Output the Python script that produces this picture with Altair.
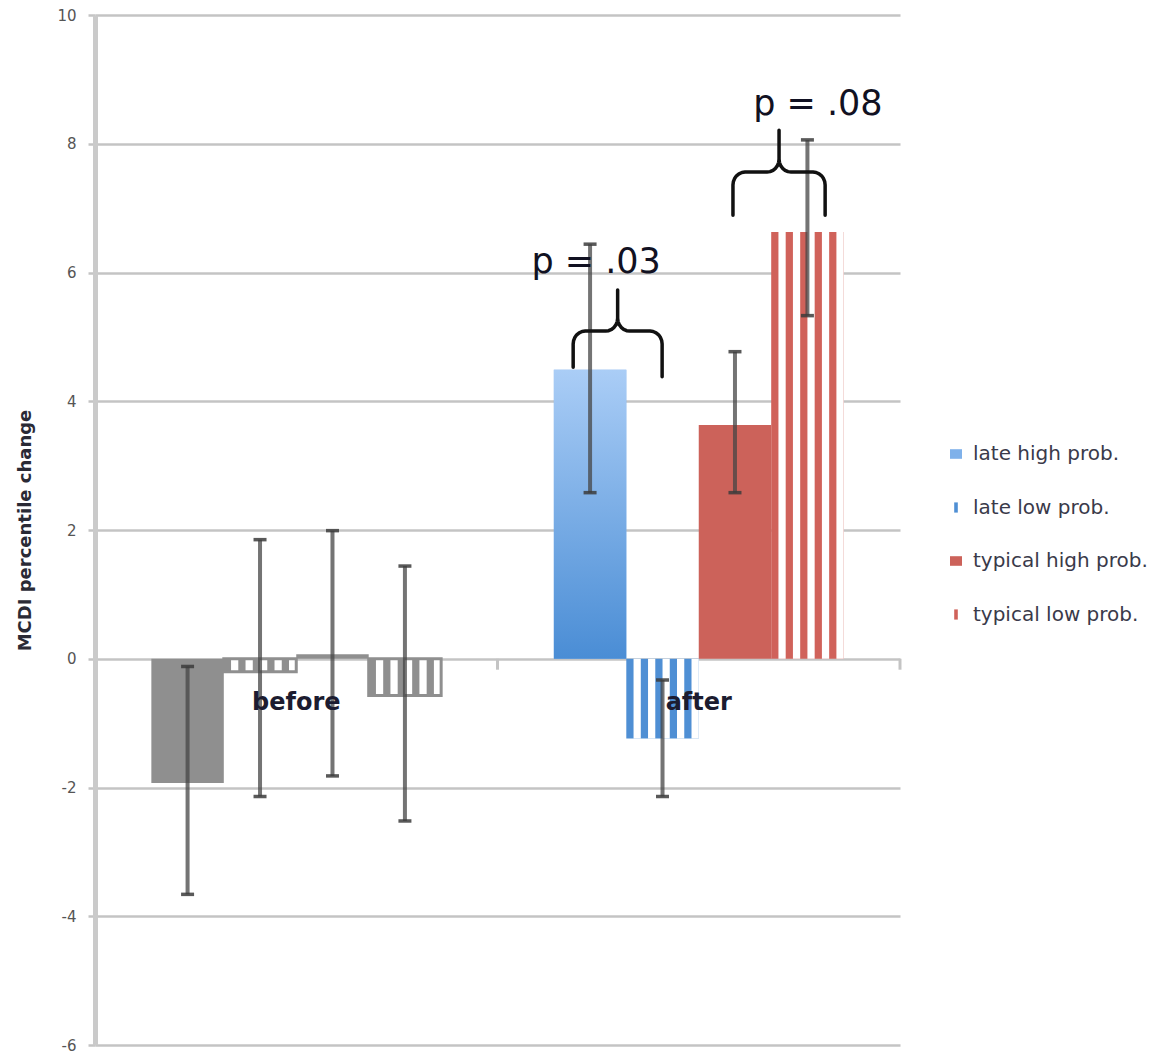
import altair as alt
import numpy as np
import pandas as pd

# ---------------- data ----------------
groups = ["before", "after"]
series = ["late high prob.", "late low prob.", "typical high prob.", "typical low prob."]
striped = ["late low prob.", "typical low prob."]

values_before = [-1.93, -0.20, 0.07, -0.57]
values_after = [4.49, -1.24, 3.63, 6.63]
err_low_before = [-3.66, -2.14, -1.82, -2.52]
err_high_before = [-0.12, 1.85, 1.99, 1.44]
err_low_after = [2.58, -2.14, 2.58, 5.33]
err_high_after = [6.44, -0.33, 4.77, 8.06]

y_ticks = [-6, -4, -2, 0, 2, 4, 6, 8, 10]

p_labels = ["p = .03", "p = .08"]
# brace annotations: left x, right x, bar level, tip, left/right leg ends (data units)
brace_left = [1.188, 1.585]
brace_right = [1.409, 1.814]
brace_level = [5.09, 7.56]
brace_tip = [5.73, 8.21]
brace_leg_left = [4.53, 6.89]
brace_leg_right = [4.38, 6.89]
p_x = [1.245, 1.796]
p_y = [6.16, 8.62]

# ---------------- tables ----------------
rows = []
for gi, (g, vals, lo, hi) in enumerate([
        ("before", values_before, err_low_before, err_high_before),
        ("after", values_after, err_low_after, err_high_after)]):
    for si, s in enumerate(series):
        rows.append(dict(group=g, gi=gi, series=s, si=si, value=vals[si], lo=lo[si], hi=hi[si]))
df = pd.DataFrame(rows)

BW = 0.18
OFF = 0.14


def arc(cx, cy, rx, ry, a0, a1, n=7):
    return [(cx + rx * np.cos(a), cy + ry * np.sin(a)) for a in np.linspace(a0, a1, n)]


def brace_points(xl, xr, yh, tip, legl, legr, rx=0.03, ry=0.2):
    xm = (xl + xr) / 2
    pts = [(xl, legl)]
    pts += arc(xl + rx, yh - ry, rx, ry, np.pi, np.pi / 2)
    pts += arc(xm - rx, yh + ry, rx, ry, -np.pi / 2, 0)
    pts += [(xm, tip)]
    pts += arc(xm + rx, yh + ry, rx, ry, np.pi, 1.5 * np.pi)
    pts += arc(xr - rx, yh - ry, rx, ry, np.pi / 2, 0)
    pts += [(xr, legr)]
    return pts


brace_rows = []
for b in range(2):
    pts = brace_points(brace_left[b], brace_right[b], brace_level[b], brace_tip[b],
                       brace_leg_left[b], brace_leg_right[b])
    for i, (x, y) in enumerate(pts):
        brace_rows.append(dict(brace=b, i=i, x=x, y=y))
brace_df = pd.DataFrame(brace_rows)

p_df = pd.DataFrame(dict(label=p_labels, x=p_x, y=p_y))
grp_df = pd.DataFrame(dict(label=groups, gi=[0, 1]))
xtick_df = pd.DataFrame(dict(gi=[1, 2]))

FONT = "DejaVu Sans"

xscale = alt.Scale(domain=[0, 2], nice=False, zero=False, padding=0)
yscale = alt.Scale(domain=[-6, 10], nice=False)

base = alt.Chart(df).transform_calculate(
    x0=f"datum.gi + {OFF} + {BW} * datum.si",
    x1=f"datum.gi + {OFF} + {BW} * (datum.si + 1)",
    xc=f"datum.gi + {OFF} + {BW} * (datum.si + 0.5)",
    zero="0",
)

X = alt.X("x0:Q", scale=xscale, axis=None)
X2 = alt.X2("x1:Q")
Y = alt.Y("value:Q", scale=yscale,
          axis=alt.Axis(values=y_ticks, labelExpr="toString(datum.value)",
                        title="MCDI percentile change", grid=True))
Y2 = alt.Y2("zero:Q")

color_scale = alt.Scale(domain=series, range=["#7fb1ea", "#4f8fd4", "#cc625a", "#d0625a"])
RECT = "M-1,-0.8H1V0.8H-1Z"
THIN = "M-0.3,-0.85H0.3V0.85H-0.3Z"
shape_scale = alt.Scale(domain=series, range=[RECT, THIN, RECT, THIN])
legend = alt.Legend(title=None, orient="none", legendX=851, legendY=429, padding=0,
                    labelFontSize=20, labelColor="#3a3a4a", labelFont=FONT, symbolSize=144,
                    rowPadding=33.5, labelOffset=7, labelLimit=400,
                    symbolStrokeWidth=0, symbolOpacity=1)

before_bars = base.transform_filter("datum.gi == 0").mark_bar(color="#8f8f8f").encode(
    x=X, x2=X2, y=Y, y2=Y2)

after_bars = base.transform_filter("datum.gi == 1").mark_bar().encode(
    x=X, x2=X2, y=Y, y2=Y2,
    color=alt.Color("series:N", scale=color_scale, legend=legend))

legend_pts = base.transform_filter("datum.gi == 1").mark_point(filled=True, opacity=0).encode(
    x=alt.X("xc:Q", scale=xscale, axis=None), y=alt.Y("zero:Q", scale=yscale),
    color=alt.Color("series:N", scale=color_scale, legend=legend),
    shape=alt.Shape("series:N", scale=shape_scale, legend=legend))

gradient_bar = base.transform_filter("datum.gi == 1 && datum.si == 0").mark_bar(
    color=alt.Gradient(gradient="linear", x1=0, x2=0, y1=0, y2=1,
                       stops=[alt.GradientStop(color="#aacdf6", offset=0),
                              alt.GradientStop(color="#4a8dd5", offset=1)])
).encode(x=X, x2=X2, y=Y, y2=Y2)

NS = 5
stripes = base.transform_filter(
    alt.FieldOneOfPredicate(field="series", oneOf=striped)
).transform_calculate(
    j=f"sequence(0, {NS})"
).transform_flatten(["j"]).transform_calculate(
    sx0=f"datum.x0 + (datum.j + 0.5) * {BW} / {NS}",
    sx1=f"datum.x0 + (datum.j + 1) * {BW} / {NS}",
).mark_bar(color="white").encode(
    x=alt.X("sx0:Q", scale=xscale, axis=None), x2="sx1:Q", y=Y, y2=Y2)

outline = base.transform_filter(
    alt.FieldOneOfPredicate(field="series", oneOf=striped)
).transform_filter("datum.gi == 0").mark_bar(
    filled=False, stroke="#8f8f8f", strokeWidth=3).encode(x=X, x2=X2, y=Y, y2=Y2)

err_line = base.mark_rule(color="#454545", opacity=0.75, strokeWidth=4).encode(
    x=alt.X("xc:Q", scale=xscale, axis=None), y=alt.Y("lo:Q", scale=yscale), y2="hi:Q")
err_lo = base.mark_tick(orient="horizontal", size=13, thickness=3.5, color="#3c3c3c",
                        opacity=0.85).encode(
    x=alt.X("xc:Q", scale=xscale, axis=None), y=alt.Y("lo:Q", scale=yscale))
err_hi = base.mark_tick(orient="horizontal", size=13, thickness=3.5, color="#3c3c3c",
                        opacity=0.85).encode(
    x=alt.X("xc:Q", scale=xscale, axis=None), y=alt.Y("hi:Q", scale=yscale))

xticks = alt.Chart(xtick_df).transform_calculate(top="0", bot="-0.17").mark_rule(
    color="#c4c4c4", strokeWidth=3).encode(
    x=alt.X("gi:Q", scale=xscale, axis=None), y=alt.Y("top:Q", scale=yscale), y2="bot:Q")

grp_text = alt.Chart(grp_df).transform_calculate(
    xc="datum.gi + 0.5", yc="-0.68").mark_text(
    font=FONT, fontSize=24, fontWeight="bold", color="#1c1c30", baseline="middle").encode(
    x=alt.X("xc:Q", scale=xscale, axis=None), y=alt.Y("yc:Q", scale=yscale), text="label:N")

p_text = alt.Chart(p_df).mark_text(font=FONT, fontSize=35, color="#111122",
                                   baseline="middle").encode(
    x=alt.X("x:Q", scale=xscale, axis=None), y=alt.Y("y:Q", scale=yscale), text="label:N")

braces = alt.Chart(brace_df).mark_line(color="#111111", strokeWidth=3.5,
                                       strokeJoin="round", strokeCap="round").encode(
    x=alt.X("x:Q", scale=xscale, axis=None), y=alt.Y("y:Q", scale=yscale),
    detail="brace:N", order="i:Q")

chart = alt.layer(
    before_bars, after_bars, legend_pts, gradient_bar, stripes, outline, xticks,
    err_line, err_lo, err_hi, grp_text, braces, p_text
).properties(
    width=805, height=1030,
    autosize=alt.AutoSizeParams(type="none"),
    padding={"left": 87, "top": 7, "right": 254, "bottom": 8},
).configure_view(stroke=None).configure_axis(
    gridColor="#c4c4c4", gridWidth=2.5, domainColor="#cacaca", domainWidth=5,
    tickColor="#c4c4c4", tickWidth=2.5, tickSize=7,
    labelFont=FONT, labelFontSize=15, labelColor="#555555", labelPadding=12,
    titleFont=FONT, titleFontSize=18, titleFontWeight="bold", titleColor="#2a2a35",
    titlePadding=22,
)

chart.save("out.html", embed_options={"renderer": "svg", "actions": False})
